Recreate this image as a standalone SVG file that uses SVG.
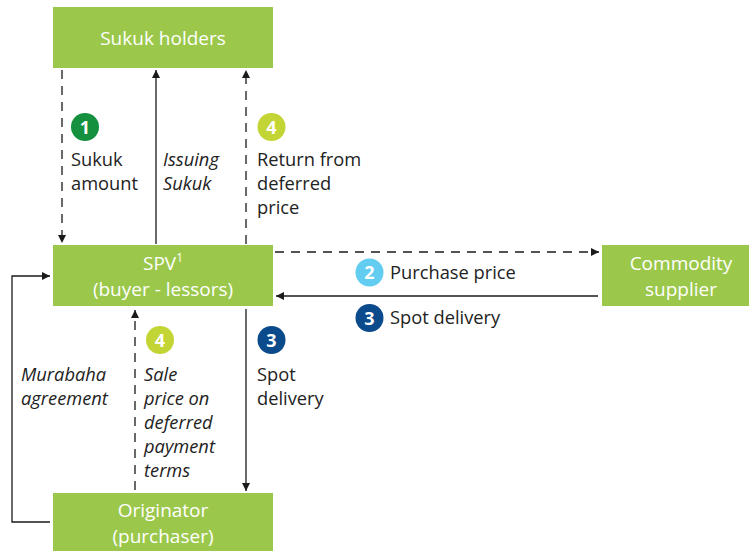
<svg xmlns="http://www.w3.org/2000/svg" width="749" height="551" viewBox="0 0 749 551">
  <style>
    .box { fill: #9bc84b; }
    .bt { font-family: "Open Sans", "Noto Sans", sans-serif; font-size: 19px; font-weight: 500; fill: #ffffff; text-anchor: middle; }
    .lbl { font-family: "Open Sans", "Noto Sans", sans-serif; font-size: 18.3px; fill: #222222; }
    .it { font-style: italic; }
    .num { font-family: "Open Sans", "Noto Sans", sans-serif; font-size: 18px; font-weight: bold; fill: #ffffff; text-anchor: middle; }
    .ln { stroke: #1a1a1a; stroke-width: 1.3; fill: none; }
    .dash { stroke-dasharray: 9 7; }
  </style>
  <defs>
    <marker id="arr" viewBox="0 0 10 10" refX="10" refY="5" markerWidth="8" markerHeight="8" markerUnits="userSpaceOnUse" orient="auto">
      <path d="M0,0 L10,5 L0,10 z" fill="#1a1a1a"/>
    </marker>
  </defs>

  <rect width="749" height="551" fill="#ffffff"/>

  <g id="connectors">
    <line class="ln dash" x1="62" y1="70" x2="62" y2="243" marker-end="url(#arr)"/>
    <line class="ln" x1="156" y1="244" x2="156" y2="70" marker-end="url(#arr)"/>
    <line class="ln dash" x1="246" y1="244" x2="246" y2="70" marker-end="url(#arr)"/>
    <line class="ln dash" x1="275" y1="252" x2="599" y2="252" marker-end="url(#arr)"/>
    <line class="ln" x1="598" y1="296" x2="276" y2="296" marker-end="url(#arr)"/>
    <line class="ln" x1="246" y1="309" x2="246" y2="491" marker-end="url(#arr)"/>
    <line class="ln dash" x1="135" y1="490" x2="135" y2="310" marker-end="url(#arr)"/>
    <polyline class="ln" points="50,522 12,522 12,276 50,276" marker-end="url(#arr)"/>
  </g>

  <g id="sukuk-holders">
    <rect class="box" x="53" y="7" width="220" height="61"/>
    <text class="bt" x="163" y="45" font-size="20">Sukuk holders</text>
  </g>
  <g id="spv">
    <rect class="box" x="53" y="245" width="220" height="61"/>
    <text class="bt" x="163" y="270">SPV<tspan font-size="12" dy="-8">1</tspan></text>
    <text class="bt" x="163" y="296">(buyer - lessors)</text>
  </g>
  <g id="commodity-supplier">
    <rect class="box" x="602" y="245" width="147" height="61"/>
    <text class="bt" x="681" y="270">Commodity</text>
    <text class="bt" x="681" y="296">supplier</text>
  </g>
  <g id="originator">
    <rect class="box" x="53" y="493" width="220" height="58"/>
    <text class="bt" x="163" y="517">Originator</text>
    <text class="bt" x="163" y="543">(purchaser)</text>
  </g>

  <g id="labels">
    <circle cx="85" cy="127" r="14" fill="#15903f"/>
    <text class="num" x="85" y="133.5">1</text>
    <text class="lbl" x="71" y="166">Sukuk</text>
    <text class="lbl" x="71" y="190">amount</text>

    <text class="lbl it" x="163" y="166">Issuing</text>
    <text class="lbl it" x="163" y="190">Sukuk</text>

    <circle cx="271.5" cy="127" r="14" fill="#c3d534"/>
    <text class="num" x="271.5" y="133.5">4</text>
    <text class="lbl" x="257" y="166">Return from</text>
    <text class="lbl" x="257" y="190">deferred</text>
    <text class="lbl" x="257" y="214">price</text>

    <circle cx="369.5" cy="272.5" r="14" fill="#62ccf1"/>
    <text class="num" x="369.5" y="279">2</text>
    <text class="lbl" x="390" y="279">Purchase price</text>

    <circle cx="369.5" cy="318" r="14" fill="#0b4a8b"/>
    <text class="num" x="369.5" y="324.5">3</text>
    <text class="lbl" x="390" y="324">Spot delivery</text>

    <text class="lbl it" x="21" y="381">Murabaha</text>
    <text class="lbl it" x="21" y="405">agreement</text>

    <circle cx="160" cy="340" r="14" fill="#c3d534"/>
    <text class="num" x="160" y="346.5">4</text>
    <text class="lbl it" x="144" y="381">Sale</text>
    <text class="lbl it" x="144" y="405">price on</text>
    <text class="lbl it" x="144" y="429">deferred</text>
    <text class="lbl it" x="144" y="453">payment</text>
    <text class="lbl it" x="144" y="477">terms</text>

    <circle cx="271.5" cy="340" r="14" fill="#0b4a8b"/>
    <text class="num" x="271.5" y="346.5">3</text>
    <text class="lbl" x="257" y="381">Spot</text>
    <text class="lbl" x="257" y="405">delivery</text>
  </g>
</svg>
